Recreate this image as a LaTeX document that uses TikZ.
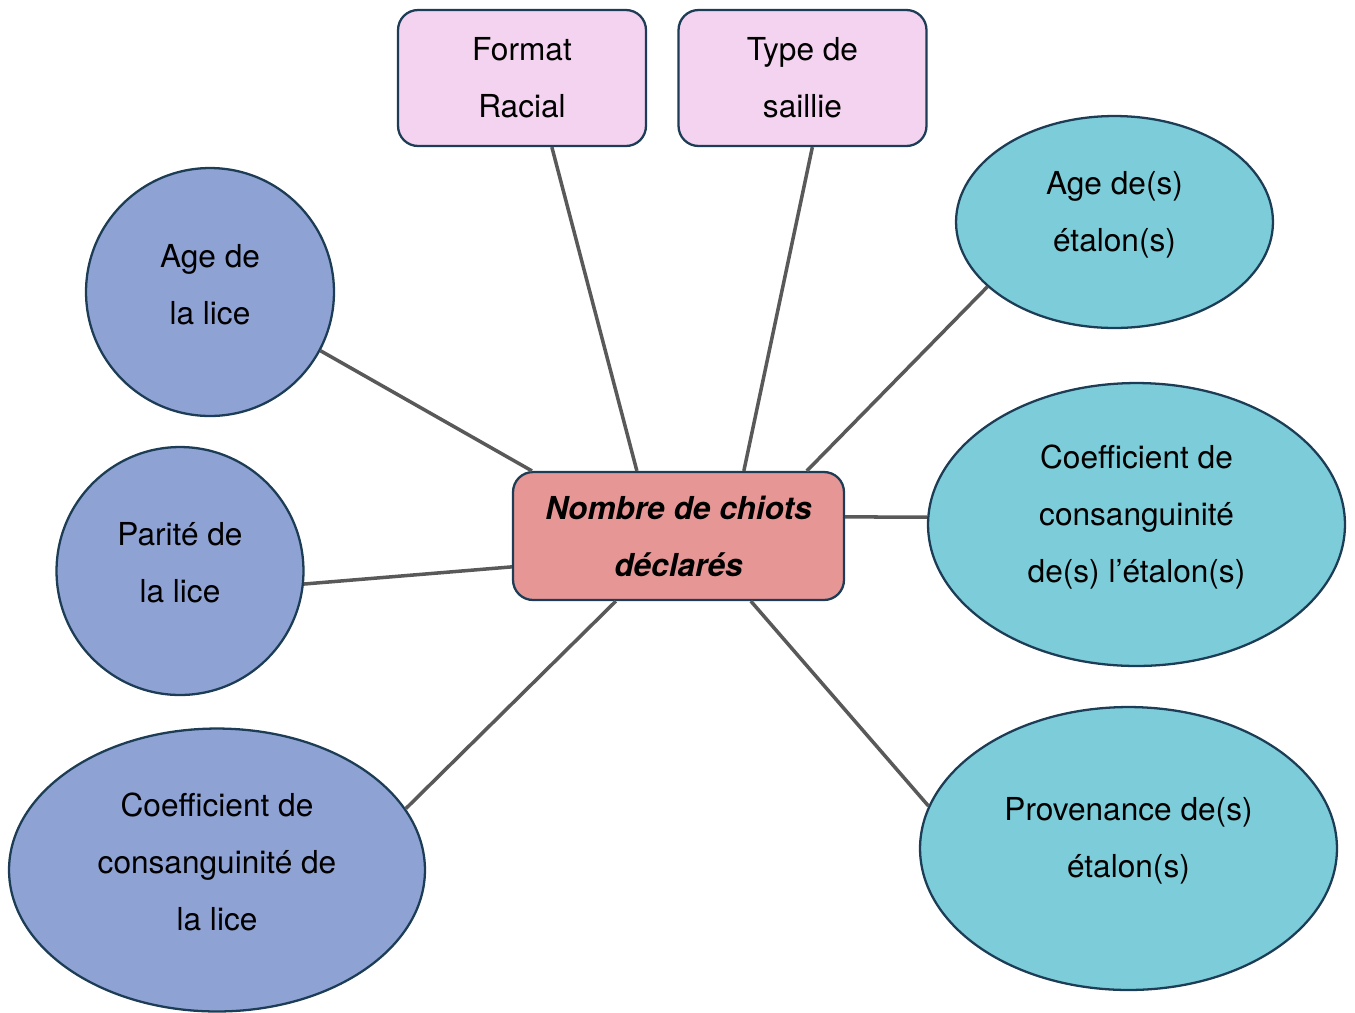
\documentclass[tikz,border=0pt]{standalone}
\usepackage{fontspec}
\setmainfont{TeX Gyre Heros}
\usetikzlibrary{shapes.geometric}
\definecolor{pinkbox}{HTML}{F4D3F0}
\definecolor{redbox}{HTML}{E79696}
\definecolor{bluell}{HTML}{8FA2D4}
\definecolor{teall}{HTML}{7CCDD9}
\definecolor{edgec}{HTML}{1C3D55}
\definecolor{linkc}{HTML}{595959}
\tikzset{
  lbl/.style={font=\fontsize{18}{32.5}\selectfont, align=center, text=black},
  topbox/.style={lbl, draw=edgec, line width=1.3pt, fill=pinkbox, rounded corners=0.4cm,
    minimum width=4.96cm, minimum height=2.72cm, inner sep=0pt},
  midbox/.style={lbl, draw=edgec, line width=1.3pt, fill=redbox, rounded corners=0.4cm,
    minimum width=6.62cm, minimum height=2.56cm, inner sep=0pt, font=\fontsize{18}{32.5}\selectfont\bfseries\itshape},
  lefte/.style={ellipse, draw=edgec, line width=1.3pt, fill=bluell, inner sep=0pt},
  righte/.style={ellipse, draw=edgec, line width=1.3pt, fill=teall, inner sep=0pt},
  link/.style={draw=linkc, line width=2pt}
}
\begin{document}
\begin{tikzpicture}[x=0.02cm, y=-0.02cm]
\useasboundingbox (0,0) rectangle (1355,1012);
\node[topbox] (fr) at (522,78) {Format\\Racial};
\node[topbox] (ts) at (802.5,78) {Type de\\saillie};
\node[midbox] (c) at (678.5,536) {Nombre de chiots\\déclarés};
\node[lefte, minimum width=4.96cm, minimum height=4.96cm] (al) at (210,292) {};
\node[lbl] (alt) at (210,285) {Age de\\la lice};
\node[lefte, minimum width=4.94cm, minimum height=4.96cm] (pl) at (180,571) {};
\node[lbl] (plt) at (180,563) {Parité de\\la lice};
\node[lefte, minimum width=8.32cm, minimum height=5.66cm] (cl) at (217,870) {};
\node[lbl] (clt) at (217,862) {Coefficient de\\consanguinité de\\la lice};
\node[righte, minimum width=6.34cm, minimum height=4.24cm] (ae) at (1114.5,222) {};
\node[lbl] (aet) at (1114.5,215) {Age de(s)\\étalon(s)};
\node[righte, minimum width=8.34cm, minimum height=5.66cm] (ce) at (1136.5,524.5) {};
\node[lbl] (cet) at (1136.5,517) {Coefficient de\\consanguinité\\de(s) l’étalon(s)};
\node[righte, minimum width=8.34cm, minimum height=5.66cm] (pe) at (1128.5,848.5) {};
\node[lbl] (pet) at (1128.5,841) {Provenance de(s)\\étalon(s)};
\draw[link] ([xshift=3.1cm]fr.south west) -- ([xshift=2.5cm]c.north west);
\draw[link] ([xshift=2.7cm]ts.south west) -- ([xshift=4.64cm]c.north west);
\draw[link] (al.-28.6) -- ([xshift=0.4cm]c.north west);
\draw[link] (pl.-6.5) -- ([yshift=-1.92cm]c.north west);
\draw[link] (cl.18.2) -- ([xshift=2.08cm]c.south west);
\draw[link] (ae.207.5) -- ([xshift=5.9cm]c.north west);
\draw[link] ([yshift=-0.92cm]c.north east) -- (ce.178);
\draw[link] ([xshift=4.78cm]c.south west) -- (pe.168.6);
\end{tikzpicture}
\end{document}
